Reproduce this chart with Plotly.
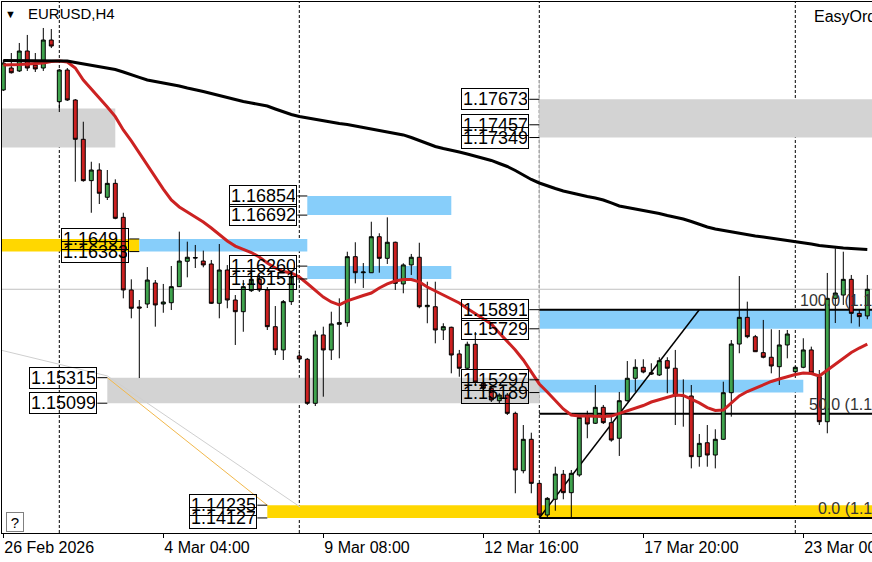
import plotly.graph_objects as go

# ---------------- data (EURUSD H4) ----------------
open_ = [1.17752, 1.17938, 1.17913, 1.18082, 1.17963, 1.17938, 1.18175, 1.17653, 1.17921, 1.17667,
         1.17334, 1.16984, 1.17074, 1.16843, 1.16961, 1.16673, 1.16058, 1.15914, 1.15939, 1.16117,
         1.15939, 1.15950, 1.16086, 1.16301, 1.16333, 1.16303, 1.16278, 1.15945, 1.16227, 1.15973,
         1.15874, 1.16052, 1.16148, 1.16058, 1.15747, 1.15550, 1.15959, 1.15499, 1.15471, 1.15098,
         1.15677, 1.15550, 1.15767, 1.15781, 1.16340, 1.16204, 1.16204, 1.16509, 1.16326, 1.16462,
         1.16109, 1.16270, 1.16335, 1.15916, 1.15916, 1.15719, 1.15742, 1.15516, 1.15395, 1.15598,
         1.15267, 1.15225, 1.15120, 1.15168, 1.15013, 1.14527, 1.14793, 1.14420, 1.14152, 1.14285,
         1.14497, 1.14341, 1.14491, 1.14991, 1.14929, 1.15064, 1.14934, 1.14802, 1.15120, 1.15310,
         1.15403, 1.15357, 1.15338, 1.15459, 1.15395, 1.15164, 1.15160, 1.14646, 1.14764, 1.14660,
         1.14793, 1.15188, 1.15600, 1.15826, 1.15662, 1.15527, 1.15488, 1.15408, 1.15592, 1.15366,
         1.15403, 1.15550, 1.15323, 1.14942, 1.15987, 1.16015, 1.16148, 1.15860, 1.15838]
high_ = [1.18006, 1.18065, 1.18150, 1.18218, 1.18065, 1.18277, 1.18268, 1.17930, 1.17938, 1.17675,
         1.17483, 1.17144, 1.17131, 1.17074, 1.16995, 1.16712, 1.16148, 1.15973, 1.16252, 1.16142,
         1.16109, 1.16261, 1.16552, 1.16467, 1.16439, 1.16391, 1.16312, 1.16447, 1.16269, 1.16015,
         1.16142, 1.16202, 1.16185, 1.16083, 1.15922, 1.15973, 1.16213, 1.15533, 1.15482, 1.15713,
         1.15747, 1.15874, 1.15987, 1.16382, 1.16462, 1.16286, 1.16636, 1.16538, 1.16673, 1.16467,
         1.16284, 1.16363, 1.16458, 1.16128, 1.16128, 1.15776, 1.15747, 1.15550, 1.15620, 1.15702,
         1.15281, 1.15239, 1.15183, 1.15185, 1.15027, 1.14914, 1.14849, 1.14423, 1.14304, 1.14561,
         1.14533, 1.14533, 1.14999, 1.15035, 1.15253, 1.15084, 1.14985, 1.15194, 1.15456, 1.15471,
         1.15471, 1.15437, 1.15488, 1.15488, 1.15550, 1.15301, 1.15253, 1.14838, 1.14914, 1.14878,
         1.15281, 1.15634, 1.16176, 1.15959, 1.15677, 1.15804, 1.15725, 1.15719, 1.15719, 1.15414,
         1.15649, 1.15578, 1.15380, 1.16202, 1.16411, 1.16382, 1.16185, 1.15888, 1.16185]
low_ = [1.17743, 1.17891, 1.17904, 1.17913, 1.17904, 1.17913, 1.18107, 1.17565, 1.17659, 1.16975,
        1.16975, 1.16712, 1.16786, 1.16820, 1.16657, 1.15987, 1.15818, 1.15312, 1.15905, 1.15747,
        1.15865, 1.15888, 1.16083, 1.16165, 1.16244, 1.16250, 1.15939, 1.15818, 1.15903, 1.15592,
        1.15704, 1.16041, 1.16041, 1.15719, 1.15507, 1.15465, 1.15931, 1.15448, 1.15084, 1.15075,
        1.15154, 1.15465, 1.15479, 1.15747, 1.16114, 1.16075, 1.16202, 1.16204, 1.16278, 1.16058,
        1.16030, 1.16185, 1.15903, 1.15776, 1.15606, 1.15634, 1.15352, 1.15323, 1.15380, 1.15253,
        1.15196, 1.15109, 1.15098, 1.14999, 1.14336, 1.14505, 1.14336, 1.14127, 1.14135, 1.14188,
        1.14285, 1.14132, 1.14476, 1.14802, 1.14923, 1.14923, 1.14773, 1.14652, 1.15112, 1.15196,
        1.15352, 1.15338, 1.15329, 1.15183, 1.14914, 1.14900, 1.14547, 1.14561, 1.14561, 1.14547,
        1.14787, 1.14985, 1.15522, 1.15649, 1.15533, 1.15479, 1.15352, 1.15253, 1.15479, 1.15359,
        1.15395, 1.15338, 1.14914, 1.14844, 1.15778, 1.15931, 1.15776, 1.15747, 1.15810]
close_ = [1.17980, 1.17898, 1.18082, 1.17938, 1.17930, 1.18175, 1.18124, 1.17921, 1.17667, 1.17334,
          1.16984, 1.17074, 1.16877, 1.16961, 1.16665, 1.16058, 1.15903, 1.15905, 1.16142, 1.15931,
          1.15956, 1.16086, 1.16303, 1.16335, 1.16329, 1.16270, 1.15945, 1.16227, 1.15973, 1.15874,
          1.16086, 1.16148, 1.16058, 1.15747, 1.15550, 1.15959, 1.16170, 1.15473, 1.15098, 1.15677,
          1.15550, 1.15770, 1.15781, 1.16340, 1.16204, 1.16210, 1.16509, 1.16326, 1.16462, 1.16114,
          1.16270, 1.16335, 1.15916, 1.15928, 1.15719, 1.15747, 1.15507, 1.15395, 1.15598, 1.15278,
          1.15225, 1.15126, 1.15168, 1.15013, 1.14533, 1.14793, 1.14420, 1.14152, 1.14293, 1.14499,
          1.14341, 1.14505, 1.14979, 1.14923, 1.15064, 1.14934, 1.14787, 1.15120, 1.15310, 1.15403,
          1.15363, 1.15346, 1.15459, 1.15395, 1.15160, 1.15160, 1.14646, 1.14759, 1.14660, 1.14793,
          1.15188, 1.15600, 1.15826, 1.15662, 1.15535, 1.15488, 1.15414, 1.15592, 1.15685, 1.15403,
          1.15550, 1.15355, 1.14942, 1.15987, 1.16032, 1.16148, 1.15860, 1.15832, 1.16064]

ma_fast = [1.17963, 1.17963, 1.17968, 1.17972, 1.17976, 1.17980, 1.17993, 1.17997, 1.17989, 1.17938,
           1.17836, 1.17760, 1.17688, 1.17608, 1.17526, 1.17413, 1.17320, 1.17218, 1.17117, 1.17006,
           1.16913, 1.16820, 1.16761, 1.16718, 1.16676, 1.16634, 1.16583, 1.16524, 1.16473, 1.16430,
           1.16405, 1.16375, 1.16337, 1.16286, 1.16244, 1.16214, 1.16202, 1.16168, 1.16113, 1.16058,
           1.15998, 1.15956, 1.15931, 1.15965, 1.15990, 1.16011, 1.16032, 1.16075, 1.16109, 1.16134,
           1.16147, 1.16147, 1.16126, 1.16083, 1.16049, 1.16015, 1.15982, 1.15948, 1.15901, 1.15859,
           1.15816, 1.15770, 1.15694, 1.15626, 1.15550, 1.15465, 1.15363, 1.15262, 1.15194, 1.15118,
           1.15050, 1.14999, 1.14990, 1.14990, 1.14986, 1.14986, 1.14990, 1.15012, 1.15037, 1.15058,
           1.15079, 1.15109, 1.15130, 1.15151, 1.15168, 1.15164, 1.15135, 1.15101, 1.15062, 1.15037,
           1.15041, 1.15101, 1.15160, 1.15198, 1.15228, 1.15257, 1.15283, 1.15304, 1.15325, 1.15342,
           1.15355, 1.15350, 1.15329, 1.15380, 1.15431, 1.15482, 1.15528, 1.15566, 1.15600]
ma_slow = [1.18002, 1.18002, 1.18002, 1.18002, 1.18002, 1.18002, 1.18002, 1.18002, 1.17997, 1.17985,
           1.17972, 1.17959, 1.17951, 1.17938, 1.17925, 1.17904, 1.17879, 1.17858, 1.17836, 1.17824,
           1.17815, 1.17803, 1.17786, 1.17769, 1.17756, 1.17739, 1.17722, 1.17705, 1.17684, 1.17667,
           1.17654, 1.17642, 1.17629, 1.17616, 1.17591, 1.17565, 1.17544, 1.17527, 1.17515, 1.17502,
           1.17489, 1.17476, 1.17468, 1.17459, 1.17447, 1.17434, 1.17421, 1.17409, 1.17400, 1.17388,
           1.17371, 1.17349, 1.17324, 1.17299, 1.17273, 1.17256, 1.17244, 1.17227, 1.17210, 1.17193,
           1.17176, 1.17155, 1.17129, 1.17104, 1.17070, 1.17032, 1.16994, 1.16964, 1.16939, 1.16917,
           1.16896, 1.16879, 1.16862, 1.16850, 1.16837, 1.16820, 1.16795, 1.16769, 1.16756, 1.16744,
           1.16727, 1.16718, 1.16706, 1.16689, 1.16676, 1.16659, 1.16638, 1.16613, 1.16591, 1.16574,
           1.16562, 1.16549, 1.16536, 1.16528, 1.16515, 1.16507, 1.16498, 1.16485, 1.16477, 1.16468,
           1.16460, 1.16447, 1.16434, 1.16426, 1.16417, 1.16413, 1.16409, 1.16405, 1.16401]

tick_bars = [0, 20, 40, 60, 80, 100]
tick_labels = ["26 Feb 2026", "4 Mar 04:00", "9 Mar 08:00", "12 Mar 16:00", "17 Mar 20:00", "23 Mar 00:00"]
separator_bars = [7, 37, 67, 99]

# supply / demand zones
zone_start = [-2, 67, 38, -2, 17, 38, 67, 13, 67, 33]
zone_end = [14, 115, 56, 17, 38, 56, 115, 67, 100, 115]
zone_top = [1.17595, 1.17673, 1.16854, 1.16490, 1.16490, 1.16260, 1.15891, 1.15315, 1.15297, 1.14235]
zone_bottom = [1.17265, 1.17349, 1.16692, 1.16383, 1.16383, 1.16151, 1.15729, 1.15099, 1.15189, 1.14127]
zone_kind = ["gray", "gray", "blue", "yellow", "blue", "blue", "blue", "gray", "blue", "yellow"]

# price tags
tag_price = [1.17673, 1.17457, 1.17349, 1.16854, 1.16692, 1.16490, 1.16383, 1.16260, 1.16151,
             1.15891, 1.15729, 1.15297, 1.15189, 1.15315, 1.15099, 1.14235, 1.14127]
tag_text = ["1.17673", "1.17457", "1.17349", "1.16854", "1.16692", "1.1649", "1.16383", "1.16260", "1.16151",
            "1.15891", "1.15729", "1.15297", "1.15189", "1.15315", "1.15099", "1.14235", "1.14127"]
tag_bar = [67, 67, 67, 38, 38, 17, 17, 38, 38, 67, 67, 67, 67, 13, 13, 33, 33]

# Fibonacci retracement anchors
fib_bars = [67, 87]
fib_prices = [1.14127, 1.15891]
fib_levels = [0.0, 50.0, 100.0]
fib_label_bar = 113.9

# thin drawn trend lines
gray_line_bars = [-0.4, 13, 37.1]
gray_line_prices = [1.15550, 1.15330, 1.14220]
orange_line_bars = [13, 33]
orange_line_prices = [1.15315, 1.14235]

# ---------------- figure ----------------
COL = {"gray": "#D3D3D3", "blue": "#87CEFA", "yellow": "#FFD700"}
FONT = "Liberation Sans, Arial, sans-serif"
X_RANGE = [-0.1625, 108.5875]
Y_RANGE = [1.139995, 1.18497]
n = len(open_)
bars = list(range(n))

fig = go.Figure()

for x0, x1, yt, yb, k in zip(zone_start, zone_end, zone_top, zone_bottom, zone_kind):
    fig.add_shape(type="rect", xref="x", yref="y", x0=x0, x1=x1, y0=yb, y1=yt,
                  fillcolor=COL[k], line_width=0, layer="below")

# light vertical border of right-side zones
fig.add_shape(type="line", xref="x", yref="y", x0=67, x1=67, y0=1.15099, y1=1.17836,
              line=dict(color="#C8C8C8", width=1), layer="below")

for b in separator_bars:
    fig.add_shape(type="line", xref="x", yref="paper", x0=b, x1=b, y0=0, y1=1,
                  line=dict(color="black", width=1, dash="3px,2px"), layer="below")

# bid line
fig.add_shape(type="line", xref="paper", yref="y", x0=0, x1=1, y0=close_[-1], y1=close_[-1],
              line=dict(color="#C0C0C0", width=1), layer="below")

# thin diagonal drawings
fig.add_trace(go.Scatter(x=gray_line_bars, y=gray_line_prices, mode="lines",
                         line=dict(color="#CFCFCF", width=1), hoverinfo="skip", showlegend=False))
fig.add_trace(go.Scatter(x=orange_line_bars, y=orange_line_prices, mode="lines",
                         line=dict(color="#F2B84B", width=1), hoverinfo="skip", showlegend=False))

# Fibonacci
lo, hi = fib_prices
fib_label_paper = (fib_label_bar - X_RANGE[0]) / (X_RANGE[1] - X_RANGE[0])
for lvl in fib_levels:
    p = lo + (hi - lo) * lvl / 100.0
    fig.add_shape(type="line", xref="x", yref="y", x0=fib_bars[0], x1=120, y0=p, y1=p,
                  line=dict(color="black", width=2), layer="below")
    fig.add_annotation(x=fib_label_paper, y=p, xref="paper", yref="y", text=f"{lvl:.1f} ({p:.5f})",
                       showarrow=False, xanchor="right", yanchor="bottom", yshift=-1,
                       font=dict(family=FONT, size=16, color="#333333"))
fig.add_shape(type="line", xref="x", yref="y", x0=fib_bars[0], x1=fib_bars[1], y0=lo, y1=hi,
              line=dict(color="black", width=1.5), layer="below")

fig.add_trace(go.Candlestick(
    x=bars, open=open_, high=high_, low=low_, close=close_,
    increasing=dict(line=dict(color="black", width=1), fillcolor="#3FA34D"),
    decreasing=dict(line=dict(color="black", width=1), fillcolor="#CC2020"),
    whiskerwidth=0, hoverinfo="skip", showlegend=False))

fig.add_trace(go.Scatter(x=bars, y=ma_fast, mode="lines", line=dict(color="#CC2222", width=3),
                         hoverinfo="skip", showlegend=False))
fig.add_trace(go.Scatter(x=bars, y=ma_slow, mode="lines", line=dict(color="black", width=3),
                         hoverinfo="skip", showlegend=False))

# price tags with small leader ticks
for p, t, b in zip(tag_price, tag_text, tag_bar):
    fig.add_shape(type="line", xref="x", yref="y", x0=b - 1.25, x1=b, y0=p, y1=p,
                  line=dict(color="black", width=1))
    fig.add_annotation(x=b - 1.25, y=p, xref="x", yref="y", text=t, showarrow=False,
                       xanchor="right", yanchor="middle", align="left",
                       width=64, height=18, borderpad=1, borderwidth=1, bordercolor="black",
                       font=dict(family=FONT, size=18, color="black"))

# chart header / corner items
fig.add_annotation(x=0.0103, y=0.978, xref="paper", yref="paper", text="▼", showarrow=False,
                   xanchor="center", yanchor="middle", font=dict(family=FONT, size=11, color="black"))
fig.add_annotation(x=0.0276, y=0.978, xref="paper", yref="paper", text="EURUSD,H4", showarrow=False,
                   xanchor="left", yanchor="middle", font=dict(family=FONT, size=15, color="black"))
fig.add_annotation(x=0.931, y=0.972, xref="paper", yref="paper", text="EasyOrder", showarrow=False,
                   xanchor="left", yanchor="middle", font=dict(family=FONT, size=16, color="black"))
fig.add_annotation(x=0.0046, y=0.0, xref="paper", yref="paper", text="?", showarrow=False,
                   xanchor="left", yanchor="bottom", yshift=1, borderpad=1, borderwidth=1,
                   bordercolor="#808080", bgcolor="white", width=14, height=16,
                   font=dict(family=FONT, size=15, color="black"))

fig.update_layout(
    width=872, height=562,
    margin=dict(l=2, r=0, t=2, b=29, autoexpand=False),
    paper_bgcolor="white", plot_bgcolor="white",
    showlegend=False,
    xaxis=dict(range=X_RANGE, showgrid=False, zeroline=False, automargin=False,
               showline=True, linecolor="black", linewidth=1, mirror=True,
               tickmode="array", tickvals=tick_bars, ticktext=tick_labels,
               ticks="outside", ticklen=4, tickcolor="black",
               ticklabelposition="outside right", ticklabeloverflow="allow",
               tickfont=dict(family=FONT, size=16, color="black"),
               rangeslider=dict(visible=False), fixedrange=True),
    yaxis=dict(range=Y_RANGE, showgrid=False, zeroline=False, automargin=False,
               showline=True, linecolor="black", linewidth=1,
               showticklabels=False, ticks="", fixedrange=True),
)

fig.write_html("out.html", config={"displayModeBar": False},
               post_script="document.body.style.margin='0';document.body.style.overflow='hidden';")
